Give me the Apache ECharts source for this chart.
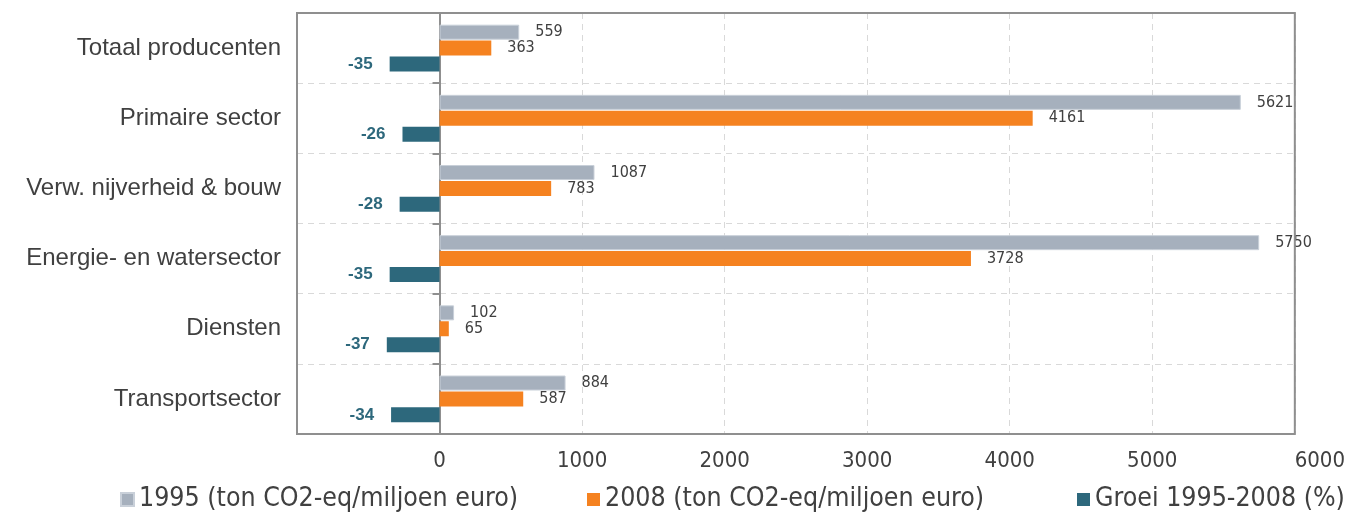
<!DOCTYPE html>
<html>
<head>
<meta charset="utf-8">
<script src="https://cdn.jsdelivr.net/npm/echarts@6/dist/echarts.min.js"></script>
<style>
  html, body { margin: 0; padding: 0; background: #fff; }
  #chart { width: 1348px; height: 514px; }
</style>
</head>
<body>
<div id="chart"></div>
<script>
  // categorieen (van boven naar beneden)
  var categories = ['Totaal producenten', 'Primaire sector', 'Verw. nijverheid & bouw',
    'Energie- en watersector', 'Diensten', 'Transportsector'];
  // ton CO2-eq per miljoen euro
  var val1995 = [559, 5621, 1087, 5750, 102, 884];
  var val2008 = [363, 4161, 783, 3728, 65, 587];
  // groei in %
  var groei = [-35, -26, -28, -35, -37, -34];
  var seriesNames = ['1995 (ton CO2-eq/miljoen euro)', '2008 (ton CO2-eq/miljoen euro)', 'Groei 1995-2008 (%)'];

  var GRAY = '#a6b0bd', ORANGE = '#f58220', TEAL = '#2d687c';
  var TXT = '#404040';
  var NARROW = '"DejaVu Sans Condensed", "Liberation Sans", sans-serif';

  // legenda: losse items zodat de posities kloppen
  var legendLeft = [115, 582, 1072];
  var legends = seriesNames.map(function (n, i) {
    return {
      left: legendLeft[i], top: 481,
      itemWidth: 13, itemHeight: 13, itemGap: 0,
      icon: 'rect',
      textStyle: { fontFamily: NARROW, fontSize: 26.5, color: TXT },
      data: [n]
    };
  });

  var chart = echarts.init(document.getElementById('chart'));
  var option = {
    animation: false,
    grid: {
      left: 297, right: 52, top: 13, bottom: 80, z: 3,
      show: true, borderColor: '#8f8f8f', borderWidth: 2
    },
    legend: legends,
    xAxis: [{
      type: 'value', min: -1000, max: 6000, interval: 1000,
      axisLine: { show: false }, axisTick: { show: false },
      axisLabel: {
        margin: 16, fontFamily: NARROW, fontSize: 22, color: TXT,
        formatter: function (v) {
          if (v < 0) return '';
          if (v === 6000) return '{last|6000}';
          return v;
        },
        rich: { last: { fontFamily: NARROW, fontSize: 22, color: TXT, padding: [0, 0, 0, 50] } }
      },
      splitLine: { lineStyle: { color: '#d9d9d9', type: [6, 5], width: 1 } }
    }, {
      // verborgen as voor de groeicijfers (%)
      type: 'value', min: -100, max: 600, show: false,
      splitLine: { show: false }
    }],
    yAxis: [{
      type: 'category', inverse: true, data: categories,
      axisLine: { show: false }, axisTick: { show: false },
      axisLabel: { margin: 16, fontFamily: 'Liberation Sans', fontSize: 24, color: TXT },
      splitLine: { show: true, lineStyle: { color: '#d9d9d9', type: [6, 5], width: 1 } }
    }, {
      type: 'category', inverse: true, data: categories, position: 'left',
      axisLine: { onZero: true, onZeroAxisIndex: 0, lineStyle: { color: '#8f8f8f', width: 2 } },
      axisTick: { show: true, length: 7, lineStyle: { color: '#8f8f8f', width: 2 } },
      axisLabel: { show: false },
      splitLine: { show: false }
    }],
    series: [{
      name: seriesNames[0], type: 'bar',
      xAxisIndex: 0, yAxisIndex: 0,
      data: val1995, barWidth: 15, barGap: '6%', barCategoryGap: '30%',
      itemStyle: { color: GRAY, borderColor: '#c9d0d9', borderWidth: 1 },
      label: { show: true, position: 'right', distance: 16, fontFamily: NARROW, fontSize: 16, color: TXT }
    }, {
      name: seriesNames[1], type: 'bar',
      xAxisIndex: 0, yAxisIndex: 0,
      data: val2008, barWidth: 15, barGap: '6%',
      itemStyle: { color: ORANGE },
      label: { show: true, position: 'right', distance: 16, fontFamily: NARROW, fontSize: 16, color: TXT }
    }, {
      name: seriesNames[2], type: 'bar',
      xAxisIndex: 1, yAxisIndex: 0,
      data: groei, barWidth: 15, barGap: '6%',
      itemStyle: { color: TEAL },
      label: { show: true, position: 'left', distance: 17, fontFamily: 'Liberation Sans', fontWeight: 'bold', fontSize: 17, color: TEAL }
    }]
  };
  chart.setOption(option);
</script>
</body>
</html>
